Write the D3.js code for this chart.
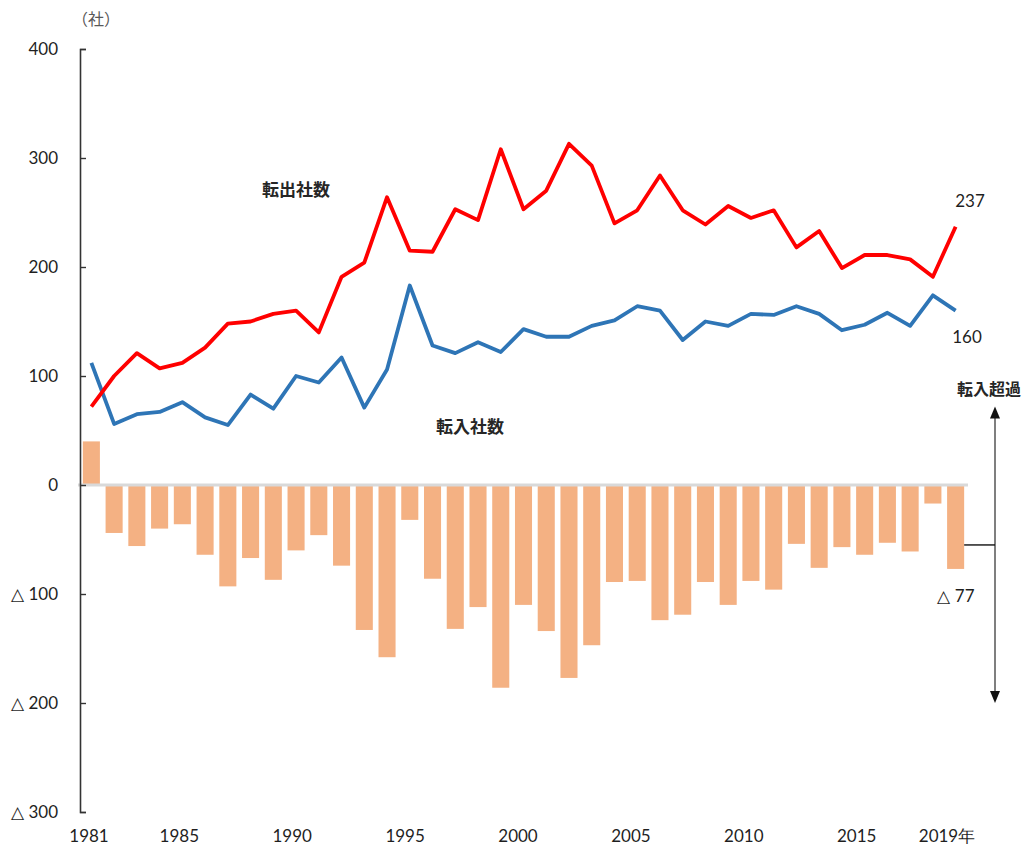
<!DOCTYPE html>
<html>
<head>
<meta charset="utf-8">
<script src="https://cdn.jsdelivr.net/npm/d3@7/dist/d3.min.js"></script>
<style>
  html, body { margin: 0; padding: 0; background: #fff; }
  svg { display: block; }
</style>
</head>
<body>
<svg id="chart" width="1031" height="855"></svg>
<script>
// Company relocations per year (社)
const years = d3.range(1981, 2020);
const outCount = [72, 100, 121, 107, 112, 126, 148, 150, 157, 160,
                  140, 191, 204, 264, 215, 214, 253, 243, 308, 253,
                  270, 313, 293, 240, 252, 284, 252, 239, 256, 245,
                  252, 218, 233, 199, 211, 211, 207, 191, 237];
const inCount  = [112, 56, 65, 67, 76, 62, 55, 83, 70, 100,
                  94, 117, 71, 106, 183, 128, 121, 131, 122, 143,
                  136, 136, 146, 151, 164, 160, 133, 150, 146, 157,
                  156, 164, 157, 142, 147, 158, 146, 174, 160];
const netCount = [40, -44, -56, -40, -36, -64, -93, -67, -87, -60,
                  -46, -74, -133, -158, -32, -86, -132, -112, -186, -110,
                  -134, -177, -147, -89, -88, -124, -119, -89, -110, -88,
                  -96, -54, -76, -57, -64, -53, -61, -17, -77];
const yTicks = [400, 300, 200, 100, 0, -100, -200, -300];
const xLabelYears = [1981, 1985, 1990, 1995, 2000, 2005, 2010, 2015, 2019];

const svg = d3.select("#chart");
const numFont = "Lato, 'Liberation Sans', sans-serif";
const jpFont = "'Noto Sans CJK JP', sans-serif";
const textColor = "#1f1f1f";
const tri = n => (n < 0 ? "△ " + (-n) : String(n));

const x = d3.scaleBand().domain(years).range([80, 967]).paddingInner(0.25).paddingOuter(0.125);
const cx = d => x(d) + x.bandwidth() / 2;
const y = d3.scaleLinear().domain([-300, 400]).range([812, 49]);
const xLabel = d3.scaleLinear().domain([1981, 2019]).range([89, 947]);

// net balance bars
svg.append("g").selectAll("rect")
  .data(years.map((yr, i) => ({ yr, v: netCount[i] })))
  .join("rect")
  .attr("x", d => x(d.yr))
  .attr("width", x.bandwidth())
  .attr("y", d => y(Math.max(0, d.v)))
  .attr("height", d => Math.abs(y(d.v) - y(0)))
  .attr("fill", "#f4b183");

// zero baseline
svg.append("line")
  .attr("x1", 78).attr("x2", 968)
  .attr("y1", y(0)).attr("y2", y(0))
  .attr("stroke", "#d9d9d9").attr("stroke-width", 3);

// y axis
const yAxis = d3.axisLeft(y).tickValues(yTicks).tickFormat(tri)
  .tickSizeInner(-6).tickSizeOuter(-6).tickPadding(22);
const gy = svg.append("g").attr("transform", "translate(80,0)").call(yAxis);
gy.select(".domain").attr("stroke", "#333").attr("stroke-width", 1.6);
gy.selectAll(".tick line").attr("stroke", "#333").attr("stroke-width", 1.4);
gy.selectAll(".tick text").attr("font-family", numFont).attr("font-size", 17)
  .attr("fill", textColor);

svg.append("text").attr("x", 72).attr("y", 25)
  .attr("font-family", jpFont).attr("font-size", 16).attr("fill", "#595959")
  .text("（社）");

// x labels
svg.append("g").selectAll("text")
  .data(xLabelYears)
  .join("text")
  .attr("x", d => xLabel(d))
  .attr("y", 842)
  .attr("text-anchor", "middle")
  .attr("font-family", numFont).attr("font-size", 17).attr("fill", textColor)
  .text(d => d === 2019 ? d + "年" : d);

// lines
const line = d3.line().x((d, i) => cx(years[i])).y(d => y(d));
svg.append("path").datum(inCount)
  .attr("d", line).attr("fill", "none")
  .attr("stroke", "#2e75b6").attr("stroke-width", 3.8)
  .attr("stroke-linejoin", "round");
svg.append("path").datum(outCount)
  .attr("d", line).attr("fill", "none")
  .attr("stroke", "#ff0000").attr("stroke-width", 3.8)
  .attr("stroke-linejoin", "round");

// series names
svg.append("text").attr("x", 296).attr("y", 196).attr("text-anchor", "middle")
  .attr("font-family", jpFont).attr("font-size", 17).attr("font-weight", "bold")
  .attr("fill", "#262626")
  .text("転出社数");
svg.append("text").attr("x", 470).attr("y", 433).attr("text-anchor", "middle")
  .attr("font-family", jpFont).attr("font-size", 17).attr("font-weight", "bold")
  .attr("fill", "#262626")
  .text("転入社数");

// end-point values
const last = years.length - 1;
svg.append("text").attr("x", 970).attr("y", 207).attr("text-anchor", "middle")
  .attr("font-family", numFont).attr("font-size", 17).attr("fill", textColor)
  .text(outCount[last]);
svg.append("text").attr("x", 967).attr("y", 343).attr("text-anchor", "middle")
  .attr("font-family", numFont).attr("font-size", 17).attr("fill", textColor)
  .text(inCount[last]);
svg.append("text").attr("x", 956).attr("y", 602).attr("text-anchor", "middle")
  .attr("font-family", numFont).attr("font-size", 17).attr("fill", textColor)
  .text(tri(netCount[last]));

// net-inflow direction arrow
const ax = 995;
const topTip = y(72), botTip = y(-200);
svg.append("line").attr("x1", ax).attr("x2", ax)
  .attr("y1", topTip + 8).attr("y2", botTip - 8)
  .attr("stroke", "#555").attr("stroke-width", 1.5);
svg.append("path")
  .attr("d", `M${ax},${topTip}L${ax - 5},${topTip + 12}L${ax + 5},${topTip + 12}Z`)
  .attr("fill", "#111");
svg.append("path")
  .attr("d", `M${ax},${botTip}L${ax - 5},${botTip - 12}L${ax + 5},${botTip - 12}Z`)
  .attr("fill", "#111");
svg.append("line").attr("x1", x(2019) + x.bandwidth()).attr("x2", ax)
  .attr("y1", y(-55)).attr("y2", y(-55))
  .attr("stroke", "#111").attr("stroke-width", 1.4);
svg.append("text").attr("x", 957).attr("y", 395)
  .attr("font-family", jpFont).attr("font-size", 16).attr("font-weight", "bold")
  .attr("fill", "#262626")
  .text("転入超過");
</script>
</body>
</html>
